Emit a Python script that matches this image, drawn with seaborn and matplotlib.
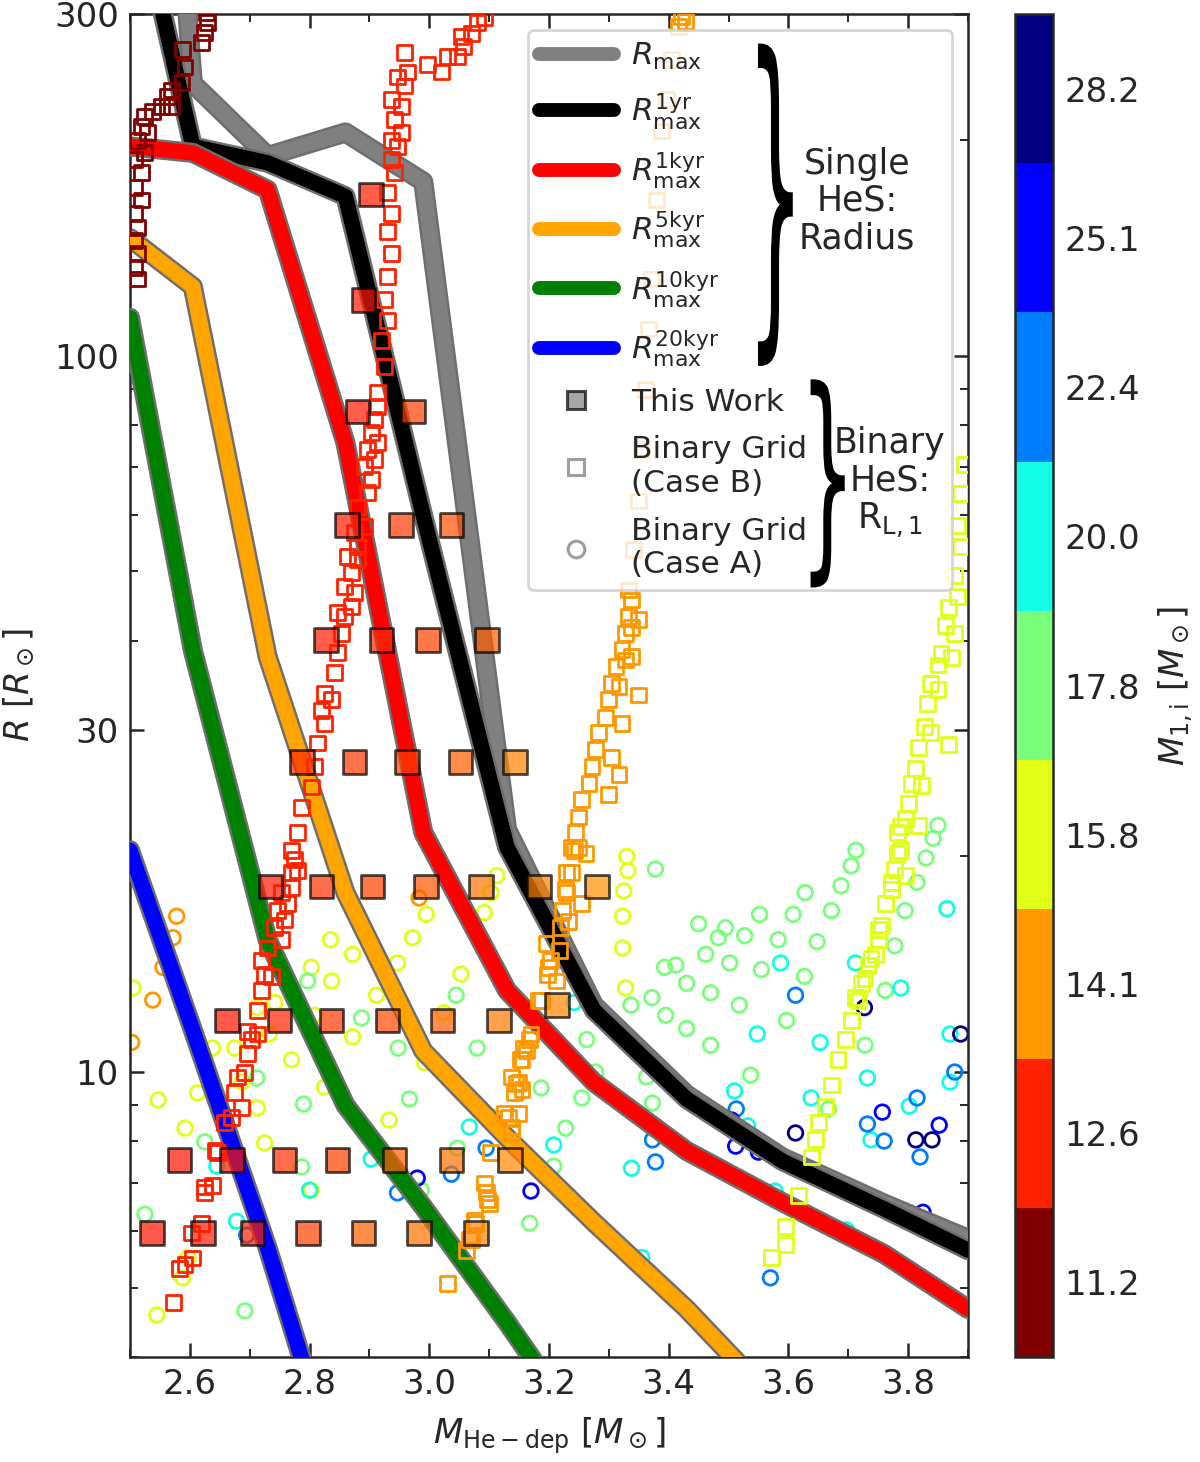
import numpy as np
import matplotlib
matplotlib.use("Agg")
import matplotlib.pyplot as plt
import matplotlib.patheffects as pe
from matplotlib.colors import LogNorm, ListedColormap
from matplotlib.cm import ScalarMappable
from matplotlib.lines import Line2D
from matplotlib.textpath import TextPath
from matplotlib.patches import PathPatch
from matplotlib.path import Path
from matplotlib.font_manager import FontProperties
from matplotlib.ticker import LogLocator, MultipleLocator, NullFormatter, NullLocator
import seaborn as sns

sns.set_style("ticks")
plt.rcParams["font.family"] = ["DejaVu Sans"]
plt.rcParams["mathtext.fontset"] = "dejavusans"

# ---------------- data ----------------
m_grid = [2.50, 2.605, 2.73, 2.86, 2.99, 3.13, 3.275, 3.43, 3.59, 3.76, 3.90]
r_max = [3500, 240, 190, 205, 175, 21.8, 12.4, 9.3, 7.6, 6.55, 5.85]
r_1yr = [480, 196, 186, 167, 59.8, 20.6, 12.2, 9.17, 7.51, 6.44, 5.64]
r_1kyr = [196, 192, 170.5, 75.6, 21.6, 13.0, 9.68, 7.76, 6.58, 5.57, 4.67]
r_5kyr = [146, 124.9, 38.0, 17.8, 10.7, 8.1, 6.17, 4.67, 3.38, 2.6, 2.1]
r_10kyr = [113, 38.8, 15.3, 8.99, 6.48, 4.47, 2.99, 2.3, 1.9, 1.6, 1.4]
r_20kyr = [20.4, 11.45, 5.68, 2.52, 1.3, 0.8, 0.6, 0.5, 0.4, 0.35, 0.3]

# This work (mass, radius, initial primary mass)
tw_x = [2.903,
        2.890,
        2.880, 2.973,
        2.863, 2.953, 3.037,
        2.828, 2.920, 2.998, 3.097,
        2.787, 2.875, 2.963, 3.052, 3.143,
        2.735, 2.820, 2.905, 2.995, 3.087, 3.183, 3.280,
        2.662, 2.750, 2.837, 2.930, 3.022, 3.117, 3.213,
        2.583, 2.670, 2.758, 2.847, 2.942, 3.037, 3.135,
        2.537, 2.622, 2.705, 2.797, 2.890, 2.983, 3.078]
tw_y = [167.9,
        119.7,
        83.6, 83.6,
        58.1, 58.1, 58.1,
        40.1, 40.1, 40.1, 40.1,
        27.1, 27.1, 27.1, 27.1, 27.1,
        18.15, 18.15, 18.15, 18.15, 18.15, 18.15, 18.15,
        11.8, 11.8, 11.8, 11.8, 11.8, 11.8, 12.4,
        7.54, 7.54, 7.54, 7.54, 7.54, 7.54, 7.54,
        5.96, 5.96, 5.96, 5.96, 5.96, 5.96, 5.96]
tw_m = [12.0,
        12.0,
        12.0, 12.5,
        12.0, 12.4, 12.7,
        12.0, 12.2, 12.5, 12.9,
        12.2, 12.4, 12.5, 12.9, 13.4,
        12.0, 12.3, 12.5, 12.8, 13.2, 13.4, 13.6,
        11.9, 12.1, 12.4, 12.6, 12.9, 13.3, 13.5,
        11.9, 12.0, 12.3, 12.5, 12.9, 13.2, 13.5,
        11.9, 12.0, 12.1, 12.5, 12.9, 13.2, 13.5]

# Binary grid, Case B tracks (one per initial mass)
cb_112_x = [2.628, 2.630, 2.625, 2.620, 2.588, 2.592, 2.587, 2.570, 2.563, 2.570, 2.553, 2.537, 2.525, 2.520,
            2.530, 2.513, 2.525, 2.508, 2.520, 2.508, 2.520, 2.508, 2.513, 2.508, 2.513, 2.508, 2.513]
cb_112_y = [301, 292, 283, 274, 268, 253, 241, 235, 230, 223, 223, 219, 216, 209,
            205, 200, 192, 188, 180, 172, 165, 158, 151, 145, 139, 133, 128]

cb_126_x = [2.572, 2.583, 2.592, 2.605, 2.603, 2.620, 2.625, 2.638, 2.625, 2.647, 2.642, 2.658, 2.670, 2.687,
            2.675, 2.680, 2.692, 2.697, 2.703, 2.713, 2.697, 2.713, 2.720, 2.725, 2.737, 2.720, 2.730, 2.753,
            2.742, 2.758, 2.747, 2.763, 2.753, 2.770, 2.770, 2.780, 2.775, 2.770, 2.780, 2.787, 2.803, 2.808,
            2.813, 2.825, 2.820, 2.837, 2.825, 2.842, 2.847, 2.853, 2.858, 2.847, 2.870, 2.875, 2.858, 2.870,
            2.880, 2.863, 2.880, 2.875, 2.892, 2.880, 2.897, 2.903, 2.892, 2.908, 2.897, 2.913, 2.903, 2.908,
            2.913, 2.913, 2.925, 2.920, 2.930, 2.925, 2.930, 2.937, 2.930, 2.937, 2.930, 2.942, 2.937, 2.947,
            2.937, 2.953, 2.942, 2.953, 2.937, 2.958, 2.947, 2.963, 2.958, 2.997, 3.020, 3.030, 3.047, 3.058,
            3.053, 3.070, 3.080, 3.092]
cb_126_y = [4.77, 5.32, 5.38, 5.50, 5.96, 6.15, 6.78, 6.95, 6.91, 7.71, 7.78, 8.49, 8.65, 8.91,
            9.35, 9.84, 9.97, 10.6, 11.1, 11.3, 11.4, 12.2, 13.0, 13.7, 13.6, 14.3, 14.9, 15.3,
            15.9, 16.3, 16.8, 17.2, 17.8, 18.1, 19.0, 19.1, 19.8, 20.4, 21.6, 23.4, 25.0, 26.7,
            28.8, 30.7, 32.0, 33.1, 33.8, 36.1, 38.5, 41.0, 43.2, 43.8, 44.6, 46.7, 47.6, 49.8,
            51.9, 52.4, 54.1, 56.6, 57.7, 61.5, 64.4, 67.1, 70.0, 71.6, 73.9, 75.6, 78.1, 81.4,
            84.9, 88.8, 96.5, 105, 112, 120, 129, 139, 149, 158, 169, 180, 188, 196,
            200, 205, 214, 223, 228, 238, 245, 249, 265, 255, 249, 262, 262, 270,
            279, 282, 292, 297]

cb_141_x = [3.422, 3.428, 3.417, 3.405, 3.397, 3.388, 3.380, 3.372, 3.367, 3.362, 3.355, 3.350, 3.342, 3.333,
            3.338, 3.333, 3.328, 3.338, 3.350, 3.322, 3.312, 3.328, 3.338, 3.305, 3.317, 3.350, 3.300, 3.295,
            3.322, 3.283, 3.278, 3.305, 3.272, 3.317, 3.267, 3.300, 3.255, 3.250, 3.245, 3.238, 3.242, 3.230,
            3.250, 3.238, 3.262, 3.228, 3.255, 3.222, 3.233, 3.195, 3.217, 3.200, 3.212, 3.183, 3.167, 3.155,
            3.150, 3.150, 3.230, 3.220, 3.203, 3.197, 3.187, 3.170, 3.158, 3.153, 3.137, 3.142, 3.125, 3.137,
            3.103, 3.092, 3.097, 3.075, 3.070, 3.063, 3.030, 3.162, 3.145, 3.155, 3.133, 3.138, 3.095, 3.100,
            3.078, 3.067]
cb_141_y = [298, 293, 288, 259, 228, 206, 165, 128, 109, 89.7, 73.9, 62.7, 53.6, 47.1,
            45.6, 43.2, 41.0, 41.8, 42.8, 38.9, 36.8, 37.6, 38.0, 34.9, 34.5, 33.6, 33.1, 31.3,
            30.7, 29.8, 28.2, 27.5, 26.7, 26.0, 25.3, 24.4, 24.0, 22.7, 21.6, 20.6, 20.4, 19.0,
            20.6, 19.0, 20.2, 18.0, 17.2, 16.8, 16.2, 15.1, 14.8, 14.0, 13.4, 12.6, 11.1, 10.4,
            9.68, 8.76, 17.8, 15.9, 14.3, 13.7, 12.6, 11.3, 10.8, 10.4, 9.84, 9.35, 8.76, 8.38,
            7.71, 7.00, 6.63, 6.21, 5.83, 5.64, 5.07, 10.7, 9.65, 9.44, 8.65, 8.22, 6.78, 6.56,
            6.15, 5.83]

cb_158_x = [3.895, 3.888, 3.883, 3.888, 3.878, 3.883, 3.867, 3.862, 3.878, 3.855, 3.850, 3.872, 3.838, 3.850,
            3.833, 3.828, 3.838, 3.867, 3.817, 3.812, 3.805, 3.822, 3.800, 3.795, 3.817, 3.783, 3.788, 3.778,
            3.795, 3.772, 3.762, 3.755, 3.750, 3.745, 3.733, 3.722, 3.712, 3.788, 3.783, 3.772, 3.750, 3.738,
            3.728, 3.717, 3.705, 3.695, 3.683, 3.672, 3.662, 3.650, 3.645, 3.638, 3.617, 3.595, 3.595, 3.572]
cb_158_y = [70.4, 64.2, 57.9, 54.1, 49.3, 46.1, 44.5, 42.0, 41.0, 38.4, 37.0, 37.9, 34.9, 34.2,
            32.7, 30.4, 29.8, 28.7, 28.4, 26.5, 25.3, 25.1, 23.7, 22.6, 22.1, 21.6, 20.4, 19.2,
            18.8, 18.0, 17.2, 16.0, 15.3, 14.6, 14.1, 13.3, 12.7, 22.0, 20.2, 18.4, 15.8, 14.4,
            13.5, 12.6, 11.8, 11.1, 10.4, 9.59, 8.96, 8.49, 8.04, 7.61, 6.73, 6.09, 5.75, 5.51]

# Binary grid, Case A points (grouped by initial mass)
ca_141_x = [2.578, 2.572, 2.555, 2.538, 2.503, 2.983]
ca_141_y = [16.5, 15.4, 14.0, 12.6, 11.0, 17.5]

ca_158_x = [3.113, 3.103, 2.995, 3.092, 2.835, 2.972, 2.872, 2.947, 3.053, 2.803, 2.837, 2.912, 2.505, 2.713,
            2.742, 3.025, 2.808, 2.733, 2.872, 2.638, 2.675, 2.770, 2.992, 2.687, 2.547, 2.613, 2.825, 2.713,
            2.933, 2.592, 2.725, 2.803, 2.597, 2.588, 2.545, 3.330, 3.332, 3.325, 3.323, 3.323, 3.328]
ca_158_y = [18.8, 17.8, 16.6, 16.7, 15.3, 15.4, 14.6, 14.2, 13.7, 14.0, 13.4, 12.8, 13.1, 12.3,
            12.5, 12.1, 12.0, 11.3, 11.2, 10.8, 10.8, 10.4, 10.3, 9.68, 9.14, 9.35, 9.53, 8.91,
            8.57, 8.35, 7.96, 6.84, 5.51, 5.16, 4.58, 20.0, 19.1, 17.9, 16.5, 14.9, 13.1]

ca_178_x = [2.797, 3.045, 2.887, 2.948, 3.080, 2.712, 2.790, 2.967, 3.187, 3.108, 3.228, 2.625, 3.047, 3.208,
            2.787, 2.987, 2.525, 3.168, 2.692, 3.378, 3.850, 3.842, 3.713, 3.705, 3.830, 3.815, 3.688, 3.628,
            3.450, 3.495, 3.483, 3.552, 3.608, 3.672, 3.527, 3.583, 3.648, 3.795, 3.778, 3.393, 3.412, 3.462,
            3.502, 3.555, 3.627, 3.430, 3.470, 3.518, 3.337, 3.372, 3.395, 3.430, 3.597, 3.762, 3.728, 3.470,
            3.263, 3.537, 3.278, 3.363, 3.255, 3.373, 3.667]
ca_178_y = [13.4, 12.8, 11.9, 10.8, 10.8, 9.81, 9.02, 9.17, 9.50, 8.65, 8.35, 7.99, 7.83, 7.39,
            7.37, 6.84, 6.33, 6.15, 4.64, 19.2, 22.1, 21.2, 20.4, 19.4, 19.9, 18.4, 18.2, 17.8,
            16.1, 15.9, 15.4, 16.6, 16.6, 16.8, 15.5, 15.3, 15.2, 16.8, 15.0, 14.0, 14.1, 14.6,
            14.2, 13.9, 13.6, 13.3, 12.9, 12.4, 12.4, 12.7, 12.0, 11.5, 11.8, 13.0, 10.9, 10.9,
            11.1, 9.90, 10.0, 9.84, 9.20, 9.05, 8.88]

ca_200_x = [3.242, 3.067, 3.208, 2.903, 2.645, 2.800, 2.678, 3.587, 3.712, 3.788, 3.865, 3.548, 3.653, 3.732,
            3.870, 3.870, 3.802, 3.510, 3.638, 3.532, 3.738, 3.338, 3.578, 3.697, 3.355]
ca_200_y = [12.5, 8.38, 7.91, 7.56, 7.39, 6.84, 6.19, 14.2, 14.2, 13.1, 16.9, 11.3, 11.0, 9.81,
            11.3, 9.68, 8.96, 9.41, 9.20, 8.41, 8.04, 7.34, 6.82, 6.02, 5.51]

ca_224_x = [3.037, 2.947, 3.095, 2.695, 3.612, 3.513, 3.378, 3.815, 3.732, 3.760, 3.820, 3.878, 3.570, 3.373]
ca_224_y = [7.20, 6.78, 7.83, 5.92, 12.8, 8.88, 7.49, 9.20, 8.46, 8.01, 7.61, 10.0, 5.16, 8.04]

ca_251_x = [2.980, 3.170, 3.512, 3.757, 3.852, 3.825, 3.505, 3.550]
ca_251_y = [7.11, 6.82, 7.88, 8.79, 8.43, 6.37, 8.57, 7.73]

ca_282_x = [3.727, 3.888, 3.612, 3.813, 3.840]
ca_282_y = [12.3, 11.3, 8.22, 8.04, 8.04]

x_ticks = [2.6, 2.8, 3.0, 3.2, 3.4, 3.6, 3.8]
x_ticklabels = ["2.6", "2.8", "3.0", "3.2", "3.4", "3.6", "3.8"]
y_ticks = [10, 30, 100, 300]
y_ticklabels = ["10", "30", "100", "300"]
cbar_ticks = [11.22, 12.59, 14.13, 15.85, 17.78, 19.95, 22.39, 25.12, 28.18]
cbar_ticklabels = ["11.2", "12.6", "14.1", "15.8", "17.8", "20.0", "22.4", "25.1", "28.2"]

# ---------------- style ----------------
FS_TICK = 24.5
FS_LEG = 22.5
norm = LogNorm(vmin=10 ** 1.025, vmax=10 ** 1.475)
cmap9 = ListedColormap(plt.get_cmap("jet_r")(np.linspace(0, 1, 9)))
cmap_cont = plt.get_cmap("jet_r")

fig = plt.figure(figsize=(12, 14.62), dpi=100)
ax = fig.add_axes([0.1083, 0.0718, 0.6983, 0.9186])
cax = fig.add_axes([0.8458, 0.0718, 0.0317, 0.9186])
ax.set_yscale("log")
ax.set_xlim(2.5, 3.9)
ax.set_ylim(4, 300)

# ---------------- Case A (hollow circles) ----------------
for xs, ys, m in [(ca_141_x, ca_141_y, 14.1), (ca_158_x, ca_158_y, 15.8), (ca_178_x, ca_178_y, 17.8),
                  (ca_200_x, ca_200_y, 20.0), (ca_224_x, ca_224_y, 22.4), (ca_251_x, ca_251_y, 25.1),
                  (ca_282_x, ca_282_y, 28.2)]:
    col = cmap9(norm(m))
    sns.scatterplot(x=xs, y=ys, marker="o", s=110, facecolor="none", edgecolor=col, color=col,
                    linewidth=2.0, zorder=2, legend=False, ax=ax)

# ---------------- Single HeS radius lines ----------------
outline = [pe.Stroke(linewidth=14.5, foreground="#6e6e6e"), pe.Normal()]
for ys, c in [(r_max, "grey"), (r_1yr, "black"), (r_1kyr, "red"), (r_5kyr, "orange"),
              (r_10kyr, "green"), (r_20kyr, "blue")]:
    sns.lineplot(x=m_grid, y=ys, sort=False, estimator=None, color=c, linewidth=11,
                 path_effects=outline, zorder=3, legend=False, ax=ax)

# ---------------- Case B (hollow squares) ----------------
for xs, ys, m in [(cb_112_x, cb_112_y, 11.2), (cb_126_x, cb_126_y, 12.6),
                  (cb_141_x, cb_141_y, 14.1), (cb_158_x, cb_158_y, 15.8)]:
    col = cmap9(norm(m))
    sns.scatterplot(x=xs, y=ys, marker="s", s=115, facecolor="none", edgecolor=col, color=col,
                    linewidth=2.0, zorder=3.5, legend=False, ax=ax)

# ---------------- This work ----------------
sns.scatterplot(x=tw_x, y=tw_y, hue=tw_m, palette=cmap_cont, hue_norm=norm, marker="s", s=290,
                edgecolor="black", linewidth=2.0, alpha=0.7, zorder=4, legend=False, ax=ax)

# ---------------- axes formatting ----------------
ax.set_xticks(x_ticks)
ax.set_xticklabels(x_ticklabels)
ax.xaxis.set_minor_locator(MultipleLocator(0.1))
ax.set_yticks(y_ticks)
ax.set_yticklabels(y_ticklabels)
ax.yaxis.set_minor_locator(LogLocator(base=10, subs=np.arange(2, 10)))
ax.yaxis.set_minor_formatter(NullFormatter())
ax.tick_params(which="both", direction="in", top=True, right=True, labelsize=FS_TICK)
ax.tick_params(which="major", length=10, width=1.8, pad=8)
ax.tick_params(which="minor", length=5.5, width=1.4)
for sp in ax.spines.values():
    sp.set_linewidth(1.8)
    sp.set_visible(True)
ax.set_xlabel(r"$M_{\rm He-dep}$ [$M_\odot$]", fontsize=FS_TICK, labelpad=10)
ax.set_ylabel(r"$R$ [$R_\odot$]", fontsize=FS_TICK, labelpad=12)

# ---------------- legend ----------------
handles = [Line2D([0], [0], color=c, lw=10) for c in ["grey", "black", "red", "orange", "green", "blue"]]
handles += [
    Line2D([0], [0], marker="s", ls="none", ms=13, mfc="grey", mec="black", mew=2.2, alpha=0.7),
    Line2D([0], [0], marker="s", ls="none", ms=12, mfc="none", mec="0.62", mew=2.2),
    Line2D([0], [0], marker="o", ls="none", ms=12, mfc="none", mec="0.62", mew=2.2),
]
labels = [r"$R_{\rm max}$", r"$R^{\rm 1yr}_{\rm max}$", r"$R^{\rm 1kyr}_{\rm max}$",
          r"$R^{\rm 5kyr}_{\rm max}$", r"$R^{\rm 10kyr}_{\rm max}$", r"$R^{\rm 20kyr}_{\rm max}$",
          "This Work", "Binary Grid\n(Case B)", "Binary Grid\n(Case A)"]
leg = ax.legend(handles, labels, loc="upper left", bbox_to_anchor=(0.475, 0.567, 0.506, 0.421),
                mode="expand", borderaxespad=0.0, fontsize=FS_LEG, handlelength=2.4,
                handletextpad=0.55, labelspacing=0.6, borderpad=0.35, framealpha=0.8, fancybox=True)
leg.get_frame().set_linewidth(2.0)
leg.set_zorder(5)


def draw_brace(ax, x0, y0, w, h):
    tp = TextPath((0, 0), "}", size=1, prop=FontProperties(family="DejaVu Sans"))
    v = tp.vertices.copy()
    mn = v.min(axis=0)
    mx = v.max(axis=0)
    v = (v - mn) / (mx - mn)
    v[:, 0] = x0 + v[:, 0] * w
    v[:, 1] = y0 + v[:, 1] * h
    ax.add_patch(PathPatch(Path(v, tp.codes), transform=ax.transAxes, fc="black", ec="none",
                           zorder=6, clip_on=False))


draw_brace(ax, 0.736, 0.738, 0.055, 0.240)
draw_brace(ax, 0.799, 0.573, 0.054, 0.155)
ax.text(0.8675, 0.8608, "Single\nHeS:\nRadius", transform=ax.transAxes, ha="center", va="center",
        fontsize=25, linespacing=1.12, zorder=6)
ax.text(0.907, 0.6508, "Binary\nHeS:\n" + r"$\mathrm{R_{L,1}}$", transform=ax.transAxes, ha="center",
        va="center", fontsize=25, linespacing=1.12, zorder=6)

# ---------------- colorbar ----------------
sm = ScalarMappable(norm=norm, cmap=cmap9)
cbar = fig.colorbar(sm, cax=cax)
cbar.set_ticks(cbar_ticks)
cbar.set_ticklabels(cbar_ticklabels)
cbar.ax.yaxis.set_minor_locator(NullLocator())
cbar.ax.tick_params(which="major", direction="in", left=True, right=True, length=8, width=1.8,
                    labelsize=FS_TICK, pad=8)
cbar.outline.set_linewidth(1.8)
cbar.set_label(r"$M_{\rm 1,i}$ [$M_\odot$]", fontsize=FS_TICK, labelpad=12)

fig.savefig("out.png", dpi=100)
